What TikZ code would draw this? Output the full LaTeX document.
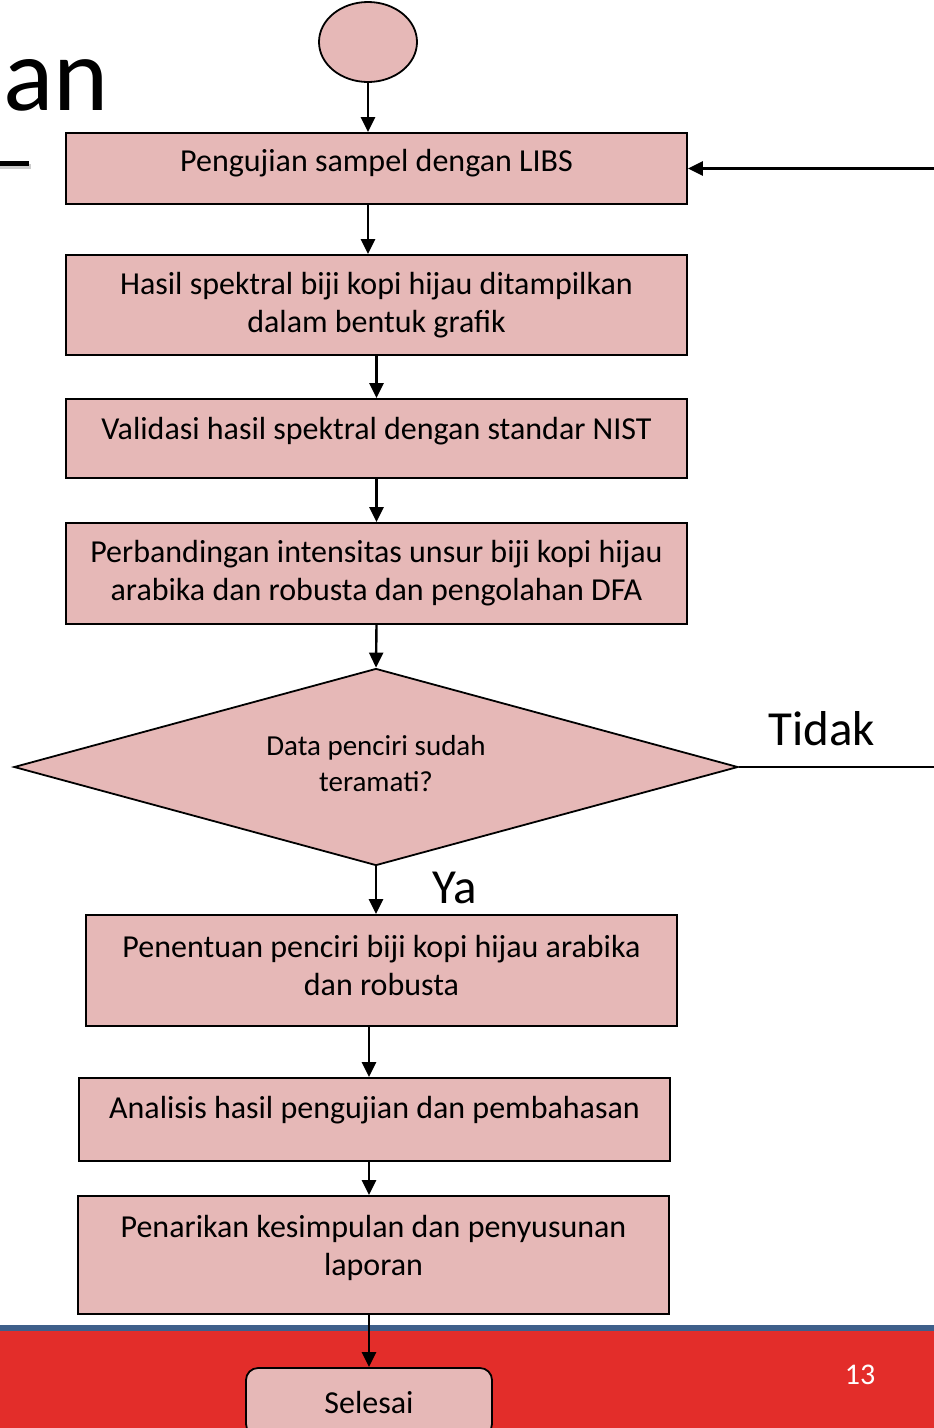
\documentclass[tikz,border=0pt]{standalone}
\usepackage{fontspec}
\setmainfont{Carlito}
\usetikzlibrary{shapes.geometric,arrows.meta}
\definecolor{boxpink}{HTML}{E6B8B7}
\definecolor{barred}{HTML}{E32D2A}
\definecolor{barblue}{HTML}{3E5F8A}
\begin{document}
\begin{tikzpicture}[
    x=1pt, y=-1pt,
    box/.style={rectangle, draw, fill=boxpink, line width=1.8pt, inner sep=0pt,
        align=center, font=\fontsize{32}{38}\selectfont},
    lift/.style={text depth=#1},
    decision/.style={diamond, draw, fill=boxpink, line width=1.8pt, inner sep=0pt,
        aspect=3.67, minimum width=724pt, minimum height=197pt,
        align=center, font=\fontsize{29}{36}\selectfont},
    terminal/.style={rectangle, rounded corners=12pt, draw, fill=boxpink, line width=1.8pt,
        minimum width=246pt, minimum height=68pt, font=\fontsize{32}{36}\selectfont},
    answer/.style={font=\fontsize{49}{54}\selectfont},
    arr/.style={-{Triangle[length=15pt,width=14pt]}, line width=2.4pt}
]
\useasboundingbox (0,0) rectangle (934,1428);

% footer of the slide
\fill[barred] (0,1331) rectangle (934,1428);
\fill[barblue] (0,1325) rectangle (934,1331);
\node[text=white, font=\fontsize{30}{34}\selectfont] (page) at (860,1375) {13};

% slide title, cut off
\node[anchor=base west, inner sep=0pt, font=\fontsize{105}{110}\selectfont] (title) at (3,110) {an};
\draw[line width=5pt, black!20] (0,166) -- (31,166);
\draw[line width=5pt] (0,163) -- (29,163);

% flowchart
\node[ellipse, draw, fill=boxpink, line width=1.8pt, minimum width=98pt, minimum height=80pt] (start) at (368,42) {};
\node[box, lift=16pt, minimum width=621pt, minimum height=71pt] (b1) at (376.5,168.5) {Pengujian sampel dengan LIBS};
\node[box, minimum width=621pt, minimum height=100pt] (b2) at (376.5,305) {Hasil spektral biji kopi hijau ditampilkan\\dalam bentuk grafik};
\node[box, lift=21pt, minimum width=621pt, minimum height=79pt] (b3) at (376.5,438.5) {Validasi hasil spektral dengan standar NIST};
\node[box, minimum width=621pt, minimum height=101pt] (b4) at (376.5,573.5) {Perbandingan intensitas unsur biji kopi hijau\\arabika dan robusta dan pengolahan DFA};
\node[decision, lift=8pt] (dec) at (376,767) {Data penciri sudah\\teramati?};
\node[box, lift=10pt, minimum width=591pt, minimum height=111pt] (b5) at (381.5,970.5) {Penentuan penciri biji kopi hijau arabika\\dan robusta};
\node[box, lift=25pt, minimum width=591pt, minimum height=83pt] (b6) at (374.5,1119.5) {Analisis hasil pengujian dan pembahasan};
\node[box, lift=20pt, minimum width=591pt, minimum height=118pt] (b7) at (373.5,1255) {Penarikan kesimpulan dan penyusunan\\laporan};
\node[terminal] (end) at (369,1402) {Selesai};

\node[answer] (no) at (822,729) {Tidak};
\node[answer] (yes) at (455,888) {Ya};

\coordinate (loopbot) at (934,767);
\coordinate (looptop) at (934,168.5);

\draw[arr] (start) -- (start |- b1.north);
\draw[arr] (b1.south -| start) -- (b2.north -| start);
\draw[arr] (b2.south) -- (b3.north);
\draw[arr] (b3.south) -- (b4.north);
\draw[arr] (b4.south) -- (dec.north);
\draw[arr] (dec.south) -- (dec.south |- b5.north);
\draw[arr] (b5.south -| end) -- (b6.north -| end);
\draw[arr] (b6.south -| end) -- (b7.north -| end);
\draw[arr] (b7.south -| end) -- (end.north);
\draw[line width=1.8pt] (dec.east) -- (loopbot);
\draw[arr] (looptop) -- (b1.east);
\end{tikzpicture}
\end{document}
